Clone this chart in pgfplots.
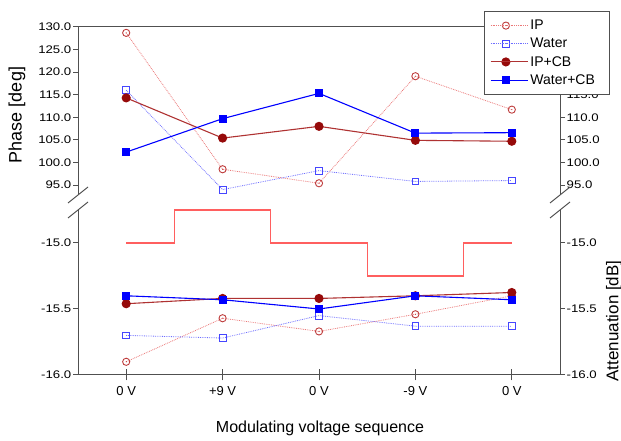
\documentclass[border=0pt]{standalone}
\usepackage{pgfplots}
\pgfplotsset{compat=1.18}
\usepackage{fontspec}
\setmainfont{Liberation Sans}
\newfontfamily\tickfont{Liberation Sans}[FakeStretch=1.2]

\definecolor{ipmark}{RGB}{190,60,60}
\definecolor{ipline}{RGB}{235,120,120}
\definecolor{wmark}{RGB}{70,70,255}
\definecolor{wline}{RGB}{110,110,255}
\definecolor{ipcb}{RGB}{150,10,10}
\definecolor{ipcbline}{RGB}{175,50,50}
\definecolor{wcb}{RGB}{0,0,255}
\definecolor{stepc}{RGB}{255,95,95}
\definecolor{axgray}{RGB}{80,80,80}

% circle with a dot in the middle, for the IP series
\pgfdeclareplotmark{odot}{%
  \pgfpathcircle{\pgfpointorigin}{\pgfplotmarksize}\pgfusepathqstroke
  \pgfpathcircle{\pgfpointorigin}{0.6pt}\pgfusepathqfill}

\pgfplotsset{
  panel/.style={
    scale only axis, width=482pt, xmin=-0.5, xmax=4.5, clip=false,
    axis line style={axgray, line width=1pt},
    every tick/.style={axgray, line width=1pt},
    major tick length=5pt,
    yticklabel style={font=\tickfont\fontsize{11}{13}\selectfont, inner sep=1.5pt,
      /pgf/number format/fixed, /pgf/number format/fixed zerofill,
      /pgf/number format/precision=1, /pgf/number format/assume math mode=true},
  },
  ipstyle/.style={ipline, densely dotted, line width=0.8pt, mark=odot, mark size=3.6pt,
    mark options={solid, ipmark, line width=0.9pt}},
  wstyle/.style={wline, densely dotted, line width=0.8pt, mark=square, mark size=3.4pt,
    mark options={solid, wmark, line width=0.9pt}},
  ipcbstyle/.style={ipcbline, solid, line width=1.1pt, mark=*, mark size=4pt,
    mark options={ipcb}},
  wcbstyle/.style={wcb, solid, line width=1.1pt, mark=square*, mark size=3.5pt,
    mark options={wcb}},
}

\begin{document}
\begin{tikzpicture}

% ---------- upper panel: phase ----------
% right-hand ticks (the legend hides the top ones, as in the original)
\begin{axis}[panel, at={(78pt,246pt)}, anchor=south west, height=168pt,
    ymin=92.8, ymax=130, ytick={95,100,...,115},
    hide x axis, axis y line*=right, tick align=outside]
  \addplot[draw=none] coordinates {(0,100)};
\end{axis}

\begin{axis}[panel, at={(78pt,246pt)}, anchor=south west, height=168pt,
    ymin=92.8, ymax=130, ytick={95,100,...,130},
    hide x axis, axis y line*=left, tick align=outside,
    legend cell align=left,
    legend style={at={(0.842,1.095)}, anchor=north west, draw=axgray,
      line width=1pt, fill=white, font=\fontsize{14}{16}\selectfont,
      row sep=3pt, inner xsep=6pt, inner ysep=6.5pt,
      nodes={inner sep=2pt},
      /tikz/every even column/.append style={text width=71pt}},
    legend image code/.code={
      \draw[mark repeat=2, mark phase=2, #1] plot coordinates {(0pt,0pt) (15pt,0pt) (30pt,0pt)};
      \path (0pt,0pt) -- (37pt,0pt);}]
  \draw[axgray, line width=1pt] (rel axis cs:0,1) -- (rel axis cs:1,1);

  \addplot[ipstyle] coordinates {(0,128.7) (1,98.5) (2,95.4) (3,119.1) (4,111.7)};
  \addlegendentry{IP}
  \addplot[wstyle] coordinates {(0,116.0) (1,94.0) (2,98.2) (3,95.8) (4,96.0)};
  \addlegendentry{Water}
  \addplot[ipcbstyle] coordinates {(0,114.3) (1,105.4) (2,108.0) (3,104.9) (4,104.7)};
  \addlegendentry{IP+CB}
  \addplot[wcbstyle] coordinates {(0,102.3) (1,109.7) (2,115.3) (3,106.5) (4,106.6)};
  \addlegendentry{Water+CB}
\end{axis}

% ---------- lower panel: attenuation ----------
\begin{axis}[panel, at={(78pt,66pt)}, anchor=south west, height=165pt,
    ymin=-16, ymax=-14.75, ytick={-16,-15.5,-15},
    hide x axis, axis y line*=right, tick align=outside]
  \addplot[draw=none] coordinates {(0,-15.5)};
\end{axis}

\begin{axis}[panel, at={(78pt,66pt)}, anchor=south west, height=165pt,
    ymin=-16, ymax=-14.75, ytick={-16,-15.5,-15},
    axis x line*=bottom, axis y line*=left,
    ytick align=outside,
    xtick={0,...,4}, xticklabels={0 V,+9 V,0 V,-9 V,0 V},
    x tick style={/pgfplots/major tick length=11pt},
    xtick align=center,
    xticklabel style={font=\fontsize{13}{15}\selectfont, yshift=-5pt}]
  % voltage sequence
  \addplot[stepc, line width=1.1pt] coordinates {
    (0,-15) (0.5,-15) (0.5,-14.75) (1.5,-14.75) (1.5,-15) (2.5,-15)
    (2.5,-15.25) (3.5,-15.25) (3.5,-15) (4,-15)};

  \addplot[ipstyle] coordinates {(0,-15.90) (1,-15.57) (2,-15.67) (3,-15.54) (4,-15.40)};
  \addplot[wstyle] coordinates {(0,-15.70) (1,-15.72) (2,-15.55) (3,-15.63) (4,-15.63)};
  \addplot[ipcbstyle] coordinates {(0,-15.46) (1,-15.42) (2,-15.42) (3,-15.40) (4,-15.375)};
  \addplot[wcbstyle] coordinates {(0,-15.40) (1,-15.43) (2,-15.50) (3,-15.40) (4,-15.43)};
\end{axis}

% axis break marks
\foreach \xx in {78pt,560pt}{
  \draw[axgray, line width=1pt] (\xx-10pt,238pt) -- (\xx+10pt,254pt);
  \draw[axgray, line width=1pt] (\xx-10pt,223pt) -- (\xx+10pt,239pt);
}

% axis titles
\node[rotate=90, font=\fontsize{18}{21}\selectfont] at (17pt,326pt) {Phase [deg]};
\node[rotate=90, font=\fontsize{17}{20}\selectfont] at (614pt,120pt) {Attenuation [dB]};
\node[font=\fontsize{16}{19}\selectfont] at (320pt,13pt) {Modulating voltage sequence};

\pgfresetboundingbox
\useasboundingbox (0,0) rectangle (621pt,441pt);
\end{tikzpicture}
\end{document}
